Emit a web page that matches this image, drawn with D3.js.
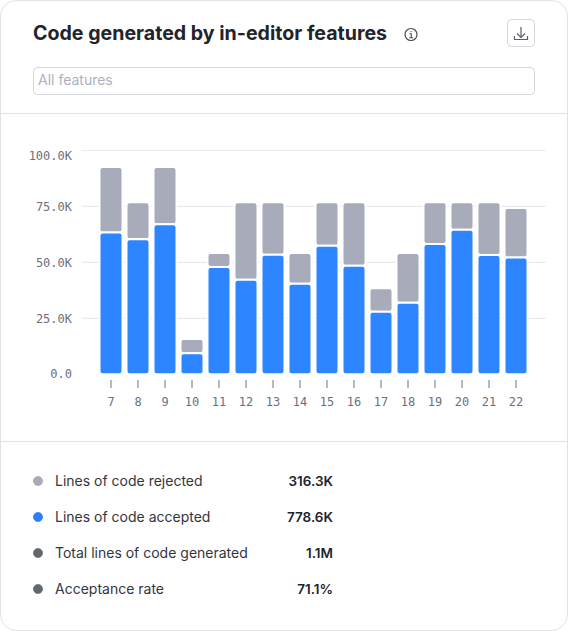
<!DOCTYPE html>
<html>
<head>
  <meta charset="utf-8">
  <title>Code generated by in-editor features</title>
  <script src="https://d3js.org/d3.v7.min.js"></script>
  <style>
    html, body { margin: 0; padding: 0; background: #fff; }
    svg { display: block; }
    .ui { font-family: Inter, "Noto Sans", sans-serif; }
    .axis text { font-family: "DejaVu Sans Mono", monospace; font-size: 12px; fill: #6c6f80; }
  </style>
</head>
<body>
  <div id="viz"></div>
<script>
  const days = [7, 8, 9, 10, 11, 12, 13, 14, 15, 16, 17, 18, 19, 20, 21, 22];
  const accepted = [63.4, 60.3, 67.0, 9.4, 47.9, 42.2, 53.4, 40.5, 57.4, 48.5, 28.0, 32.0, 58.2, 64.6, 53.3, 52.2];
  const rejected = [29.2, 16.6, 25.6, 6.4, 6.3, 34.7, 23.5, 13.7, 19.5, 28.4, 10.5, 22.2, 18.7, 12.3, 23.6, 22.1];
  const yTicks = [0, 25, 50, 75, 100];

  const legendLabels = ["Lines of code rejected", "Lines of code accepted", "Total lines of code generated", "Acceptance rate"];
  const legendValues = ["316.3K", "778.6K", "1.1M", "71.1%"];
  const legendColors = ["#a7abba", "#2b7fff", "#62686d", "#62686d"];

  const FULLW = 568;
  const FULLH = 631;
  const BORDERCOLOR = "#e1e2e8";
  const BLUE = "#2d86ff";
  const GRAY = "#a7abba";

  const svg = d3.select("#viz").append("svg")
    .attr("width", FULLW)
    .attr("height", FULLH);

  // card
  svg.append("rect")
    .attr("x", 0.5).attr("y", 0.5)
    .attr("width", FULLW - 1).attr("height", FULLH - 1)
    .attr("rx", 16)
    .attr("fill", "#fff")
    .attr("stroke", BORDERCOLOR);

  svg.selectAll(".divider").data([113.5, 441.5]).join("line")
    .attr("class", "divider")
    .attr("x1", 1).attr("x2", FULLW - 1)
    .attr("y1", d => d).attr("y2", d => d)
    .attr("stroke", BORDERCOLOR);

  // header
  svg.append("text")
    .attr("class", "ui")
    .attr("x", 33).attr("y", 39.5)
    .attr("font-size", 19.6)
    .attr("font-weight", 700)
    .attr("fill", "#22232b")
    .text("Code generated by in-editor features");

  const info = svg.append("g").attr("transform", "translate(411,34.5)");
  info.append("circle").attr("r", 6).attr("fill", "none").attr("stroke", "#4a4d58").attr("stroke-width", 1.2);
  info.append("path").attr("d", "M-1.5,-0.8H0.3V3M-1.8,3.2H2.2M0,-3.4V-2.4")
    .attr("fill", "none").attr("stroke", "#4a4d58").attr("stroke-width", 1.1);

  svg.append("rect")
    .attr("x", 507.5).attr("y", 19.5)
    .attr("width", 27).attr("height", 27)
    .attr("rx", 4)
    .attr("fill", "#fff").attr("stroke", "#d5d6de");
  svg.append("path")
    .attr("d", "M521,27V37M517,33.5L521,37.5L525,33.5M514.5,36V39.5H527.5V36")
    .attr("fill", "none").attr("stroke", "#5b5e6b").attr("stroke-width", 1.2);

  svg.append("rect")
    .attr("x", 33.5).attr("y", 67.5)
    .attr("width", 501).attr("height", 27)
    .attr("rx", 4)
    .attr("fill", "#fff").attr("stroke", "#d5d6de");
  svg.append("text")
    .attr("class", "ui")
    .attr("x", 38).attr("y", 85)
    .attr("font-size", 14)
    .attr("fill", "#adb0c0")
    .text("All features");

  // chart
  const x = d3.scaleBand()
    .domain(days)
    .range([97.5, 529.5])
    .paddingInner(4 / 27)
    .paddingOuter(2 / 27);

  const y = d3.scaleLinear().domain([0, 100]).range([374.3, 150.5]);

  const fmt = d => d === 0 ? "0.0" : d3.format(".1f")(d) + "K";

  svg.selectAll(".grid").data(yTicks.slice(1)).join("line")
    .attr("class", "grid")
    .attr("x1", 82).attr("x2", 546)
    .attr("y1", d => y(d)).attr("y2", d => y(d))
    .attr("stroke", "#e9eaee")
    .attr("stroke-width", 1.2);

  const yAxis = svg.append("g")
    .attr("class", "axis")
    .attr("transform", "translate(72,0)")
    .call(d3.axisLeft(y).tickValues(yTicks).tickFormat(fmt).tickSize(0).tickPadding(0));
  yAxis.select(".domain").remove();
  // the end labels are pulled inwards so they stay inside the plot height
  yAxis.selectAll("text").attr("dy", d => d === 100 ? "0.75em" : d === 0 ? "0.25em" : "0.32em");

  const xAxis = svg.append("g")
    .attr("class", "axis")
    .attr("transform", "translate(0,380)")
    .call(d3.axisBottom(x).tickSize(8).tickPadding(9));
  xAxis.select(".domain").remove();
  xAxis.selectAll("line").attr("stroke", "#6c6f80");

  const bars = svg.append("g");

  function addBars(values, base, color) {
    bars.selectAll(null).data(days).join("rect")
      .attr("x", d => x(d))
      .attr("width", x.bandwidth())
      .attr("y", (d, i) => y(base(i) + values[i]))
      .attr("height", (d, i) => y(base(i)) - y(base(i) + values[i]))
      .attr("rx", 3)
      .attr("fill", color)
      .attr("stroke", "#fff")
      .attr("stroke-width", 2);
  }

  addBars(rejected, i => accepted[i], GRAY);
  addBars(accepted, i => 0, BLUE);

  // legend
  const legendY = d3.scalePoint().domain(legendLabels).range([481, 589]);

  const rows = svg.selectAll(".row").data(legendLabels).join("g")
    .attr("class", "row ui")
    .attr("transform", d => "translate(0," + legendY(d) + ")");

  rows.append("circle")
    .attr("cx", 38).attr("r", 4.6)
    .attr("fill", (d, i) => legendColors[i])
    .attr("stroke", (d, i) => d3.color(legendColors[i]).darker(0.2))
    .attr("stroke-width", 0.6);

  rows.append("text")
    .attr("x", 55).attr("dy", "0.35em")
    .attr("font-size", 14)
    .attr("fill", "#34353d")
    .text(d => d);

  rows.append("text")
    .attr("x", 333).attr("dy", "0.35em")
    .attr("text-anchor", "end")
    .attr("font-size", 13.5)
    .attr("font-weight", 600)
    .attr("fill", "#22232b")
    .text((d, i) => legendValues[i]);
</script>
</body>
</html>
